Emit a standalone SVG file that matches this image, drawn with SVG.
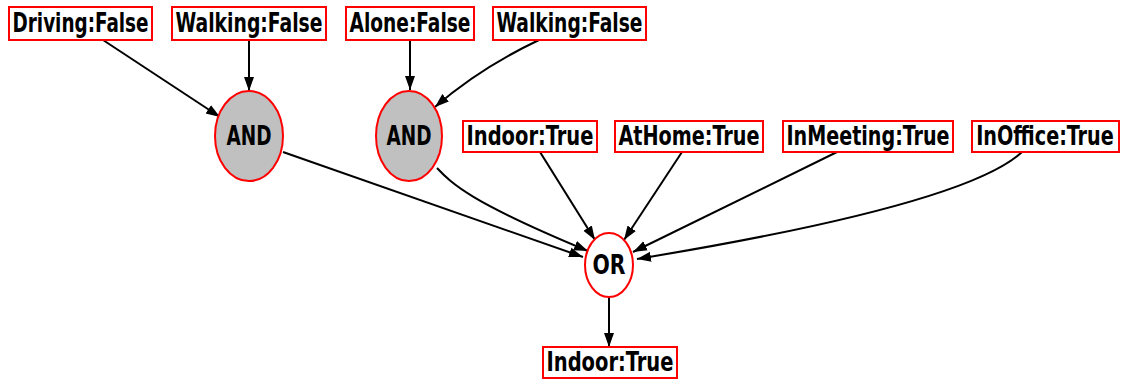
<svg xmlns="http://www.w3.org/2000/svg" width="1123" height="379" viewBox="0 0 1123 379">
<style>
.box{fill:#fff;stroke:#ff0000;stroke-width:2}
.and{fill:#c0c0c0;stroke:#ff0000;stroke-width:2}
.or{fill:#fff;stroke:#ff0000;stroke-width:2}
text{font-family:"DejaVu Sans Condensed","DejaVu Sans",sans-serif;font-weight:bold;font-size:26px;fill:#000;text-anchor:middle}
.edge{fill:none;stroke:#000;stroke-width:2;marker-end:url(#arr)}
</style>
<defs>
<marker id="arr" markerUnits="userSpaceOnUse" markerWidth="15" markerHeight="12" viewBox="0 0 15 12" refX="14" refY="6" orient="auto">
<path d="M0,1 L14,6 L0,11 Z" fill="#000"/>
</marker>
</defs>
<rect width="1123" height="379" fill="#fff"/>
<g id="connectors">
<path class="edge" d="M103,40 L220,117"/>
<path class="edge" d="M249,41 L249,91"/>
<path class="edge" d="M283,152 L583,257"/>
<path class="edge" d="M410,40 L410,90"/>
<path class="edge" d="M539,40 Q480,68 435,107"/>
<path class="edge" d="M437,168 C452,184 470,202 588,251"/>
<path class="edge" d="M540,152 L595,240"/>
<path class="edge" d="M682,152 L624,240"/>
<path class="edge" d="M837,152 L633,252"/>
<path class="edge" d="M1022,152 Q965,205 637,259"/>
<path class="edge" d="M609,297 L609,347"/>
</g>
<g id="n1"><rect class="box" x="9" y="7" width="143" height="33"/><text x="80.5" y="32" textLength="136" lengthAdjust="spacingAndGlyphs">Driving:False</text></g>
<g id="n2"><rect class="box" x="172" y="7" width="154" height="33"/><text x="249" y="32" textLength="147" lengthAdjust="spacingAndGlyphs">Walking:False</text></g>
<g id="n3"><rect class="box" x="346" y="7" width="128" height="33"/><text x="410" y="32" textLength="121" lengthAdjust="spacingAndGlyphs">Alone:False</text></g>
<g id="n4"><rect class="box" x="493" y="7" width="153" height="33"/><text x="569.5" y="32" textLength="146" lengthAdjust="spacingAndGlyphs">Walking:False</text></g>
<g id="and1"><ellipse class="and" cx="249" cy="136" rx="34" ry="45"/><text x="249" y="145" textLength="45" lengthAdjust="spacingAndGlyphs">AND</text></g>
<g id="and2"><ellipse class="and" cx="409" cy="136" rx="33" ry="45"/><text x="409" y="145" textLength="45" lengthAdjust="spacingAndGlyphs">AND</text></g>
<g id="n5"><rect class="box" x="463" y="121" width="134" height="31"/><text x="530" y="145" textLength="127" lengthAdjust="spacingAndGlyphs">Indoor:True</text></g>
<g id="n6"><rect class="box" x="615" y="121" width="148" height="31"/><text x="689" y="145" textLength="141" lengthAdjust="spacingAndGlyphs">AtHome:True</text></g>
<g id="n7"><rect class="box" x="783" y="121" width="170" height="31"/><text x="868" y="145" textLength="163" lengthAdjust="spacingAndGlyphs">InMeeting:True</text></g>
<g id="n8"><rect class="box" x="972" y="121" width="147" height="31"/><g transform="translate(1045,145) scale(0.8,1)"><text x="0" y="0" textLength="172" lengthAdjust="spacingAndGlyphs">InOffice:True</text></g></g>
<g id="or"><ellipse class="or" cx="609" cy="265" rx="24" ry="32"/><text x="609" y="274" textLength="33" lengthAdjust="spacingAndGlyphs">OR</text></g>
<g id="n9"><rect class="box" x="543" y="347" width="134" height="31"/><text x="610" y="371" textLength="127" lengthAdjust="spacingAndGlyphs">Indoor:True</text></g>
</svg>
